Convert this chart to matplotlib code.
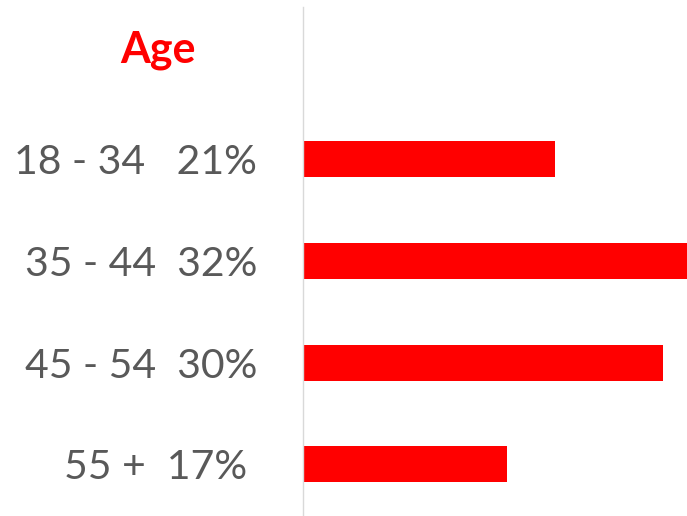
import matplotlib.pyplot as plt

# age groups and their share
groups = ["18 - 34", "35 - 44", "45 - 54", "55 +"]
shares = [21, 32, 30, 17]
gaps = ["   ", "  ", "  ", "  "]
tails = ["", "", "", " "]

RED = "#FF0000"
GREY = "#595959"


def makePlot():
    fig = plt.figure(figsize=(6.87, 5.16), dpi=100)
    ax = fig.add_axes([303 / 687, 1 / 516, 1 - 303 / 687, 508 / 516])

    pos = list(range(len(groups)))
    ax.barh(pos, shares, height=0.355, color=RED)

    labels = [g + s + str(v) + "%" + t for g, s, v, t in zip(groups, gaps, shares, tails)]
    ax.set_yticks(pos)
    ax.set_yticklabels(labels, fontsize=29.5, color=GREY, family="Lato")
    ax.tick_params(axis="y", length=0, pad=33)
    ax.set_xticks([])

    ax.set_xlim(0, 32)
    ax.set_ylim(3.5, -1.5)

    for side in ["top", "right", "bottom"]:
        ax.spines[side].set_visible(False)
    ax.spines["left"].set_color("#d9d9d9")
    ax.spines["left"].set_linewidth(1.0)

    fig.text(158 / 687, 1 - 62 / 516, "Age", ha="center", va="baseline",
             fontsize=31, fontweight="bold", color=RED, family="Lato")

    fig.savefig("out.png", dpi=100)


makePlot()
